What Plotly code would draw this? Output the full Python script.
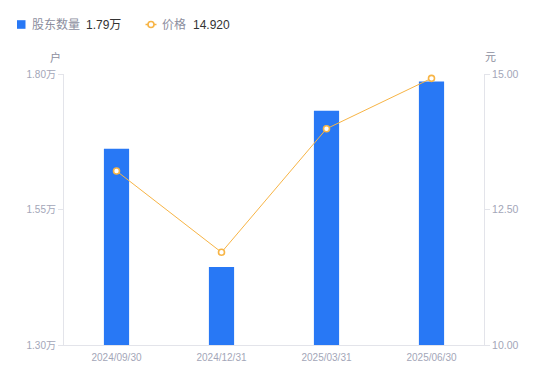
import plotly.graph_objects as go

# ---- data ----
categories = ["2024/09/30", "2024/12/31", "2025/03/31", "2025/06/30"]
holders_wan = [1.662, 1.444, 1.732, 1.786]      # 股东数量 (万户)
prices = [13.21, 11.71, 13.99, 14.92]           # 价格 (元)

left_ticks = [1.30, 1.55, 1.80]
left_ticktext = ["1.30万", "1.55万", "1.80万"]
right_ticks = [10.0, 12.5, 15.0]
right_ticktext = ["10.00", "12.50", "15.00"]

# ---- style ----
FONT = "Liberation Sans, Arial, Noto Sans CJK SC, sans-serif"
BLUE = "#2878F5"
ORANGE = "#F7B445"
AXIS = "#E3E4EA"
TICK = "#A3A6B8"
LABEL = "#8C8E9E"
DARK = "#333333"

OFF = 8  # page body margin
W, H = 550 - OFF, 381 - OFF
PL, PR, PT, PB = 64, 484, 74, 345   # absolute plot box in the page
L = PL - OFF
T = PT - OFF
R = (OFF + W) - PR
B = (OFF + H) - PB

fig = go.Figure()
fig.add_trace(go.Bar(
    x=categories, y=holders_wan, width=0.24,
    marker=dict(color=BLUE, line=dict(width=0)),
    yaxis="y", name="股东数量", hoverinfo="skip",
))
fig.add_trace(go.Scatter(
    x=categories, y=prices, mode="lines+markers",
    line=dict(color=ORANGE, width=1),
    marker=dict(symbol="circle", size=6, color="white",
                line=dict(color=ORANGE, width=1.6)),
    yaxis="y2", name="价格", hoverinfo="skip",
))

fig.update_layout(
    width=W, height=H,
    margin=dict(l=L, r=R, t=T, b=B, pad=0),
    paper_bgcolor="white", plot_bgcolor="white",
    showlegend=False,
    font=dict(family=FONT, size=10, color=TICK),
    xaxis=dict(
        type="category", showgrid=False, zeroline=False,
        showline=True, linecolor=AXIS, linewidth=1,
        ticks="outside", ticklen=3, tickcolor="rgba(0,0,0,0)",
        tickfont=dict(size=10, color=TICK),
        range=[-0.5, 3.5],
    ),
    yaxis=dict(
        range=[1.30, 1.80], tickvals=left_ticks, ticktext=left_ticktext,
        showgrid=False, zeroline=False,
        showline=True, linecolor=AXIS, linewidth=1,
        ticks="outside", ticklen=5, tickcolor=AXIS, tickwidth=1,
        tickfont=dict(size=10, color=TICK),
    ),
    yaxis2=dict(
        range=[10, 15], tickvals=right_ticks, ticktext=right_ticktext,
        overlaying="y", side="right",
        showgrid=False, zeroline=False,
        showline=True, linecolor=AXIS, linewidth=1,
        ticks="outside", ticklen=5, tickcolor=AXIS, tickwidth=1,
        tickfont=dict(size=10.5, color=TICK),
    ),
)

# unit labels
fig.add_annotation(xref="paper", yref="paper", x=0, y=1, xshift=-9, yshift=17,
                   text="户", showarrow=False, xanchor="center", yanchor="middle",
                   font=dict(size=11, color=LABEL, family=FONT))
fig.add_annotation(xref="paper", yref="paper", x=1, y=1, xshift=6, yshift=17,
                   text="元", showarrow=False, xanchor="center", yanchor="middle",
                   font=dict(size=11, color=LABEL, family=FONT))

# custom legend (top row), positions in absolute page pixels
LY = PT - 24.5
def legend_text(px, text, color):
    fig.add_annotation(xref="paper", yref="paper", x=0, y=1,
                       xshift=px - PL, yshift=LY, text=text, showarrow=False,
                       xanchor="left", yanchor="middle", borderpad=0,
                       font=dict(size=12, color=color, family=FONT))

fig.add_shape(type="rect", xref="paper", yref="paper", xsizemode="pixel", ysizemode="pixel",
              xanchor=0, yanchor=1, x0=17 - PL, x1=25.5 - PL, y0=LY - 4.3, y1=LY + 4.3,
              fillcolor=BLUE, line=dict(width=0))
legend_text(30.5, "股东数量", LABEL)
legend_text(85, f"{holders_wan[-1]:.2f}万", DARK)

fig.add_shape(type="line", xref="paper", yref="paper", xsizemode="pixel", ysizemode="pixel",
              xanchor=0, yanchor=1, x0=145.5 - PL, x1=156.5 - PL, y0=LY, y1=LY,
              line=dict(color=ORANGE, width=1.5))
fig.add_shape(type="circle", xref="paper", yref="paper", xsizemode="pixel", ysizemode="pixel",
              xanchor=0, yanchor=1, x0=148 - PL, x1=154 - PL, y0=LY - 3, y1=LY + 3,
              fillcolor="white", line=dict(color=ORANGE, width=1.6))
legend_text(160.5, "价格", LABEL)
legend_text(192, f"{prices[-1]:.3f}", DARK)

fig.write_html("out.html")
